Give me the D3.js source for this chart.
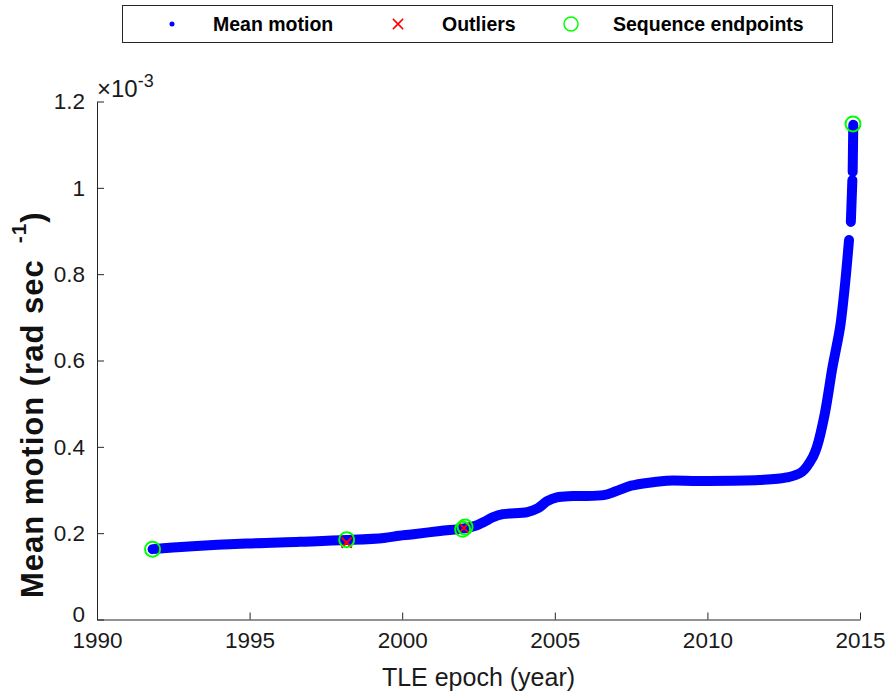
<!DOCTYPE html>
<html>
<head>
<meta charset="utf-8">
<script src="https://cdn.jsdelivr.net/npm/d3@7"></script>
<style>
  body { margin: 0; background: #fff; }
  svg { display: block; font-family: "Liberation Sans", Arial, sans-serif; }
</style>
</head>
<body>
<div id="chart"></div>
<script>
// mean motion series (units of 1e-3 rad/s), null marks a gap in the dots
const motionYear = [1991.82, 1993.0, 1994.9, 1996.65, 1998.18, 1999.4, 1999.9, 2000.3, 2001.24, 2002.03,
  2002.4, 2002.65, 2002.98, 2003.3, 2004.1, 2004.45, 2004.75, 2005.07, 2005.6, 2006.6,
  2007.0, 2007.5, 2008.2, 2008.67, 2009.76, 2011.7, 2012.6, 2013.1, 2013.46, 2013.59,
  2013.85, 2014.1, 2014.23, 2014.35, 2014.5, 2014.64, null, 2014.70, 2014.75, null, 2014.76, 2014.78];
const motionValue = [0.163, 0.169, 0.176, 0.180, 0.184, 0.189, 0.194, 0.197, 0.205, 0.211,
  0.217, 0.225, 0.237, 0.244, 0.249, 0.258, 0.274, 0.283, 0.286, 0.288,
  0.297, 0.310, 0.318, 0.3215, 0.321, 0.323, 0.329, 0.342, 0.377, 0.400,
  0.478, 0.585, 0.632, 0.678, 0.770, 0.879, null, 0.921, 1.018, null, 1.037, 1.146];

const outlierYear = [1998.18, 2002.02];
const outlierValue = [0.178, 0.212];

const endpointYear = [1991.82, 1998.18, 2001.98, 2002.06, 2014.77];
const endpointValue = [0.163, 0.185, 0.209, 0.214, 1.148];

const xTicks = [1990, 1995, 2000, 2005, 2010, 2015];
const yTicks = [0, 0.2, 0.4, 0.6, 0.8, 1, 1.2];

const width = 885, height = 693;
const axisColor = "#262626";

const x = d3.scaleLinear().domain([1990, 2015]).range([97, 860]);
const y = d3.scaleLinear().domain([0, 1.2]).range([619.5, 101.5]);

const svg = d3.select("#chart").append("svg")
  .attr("width", width)
  .attr("height", height);

// axes
const xAxis = d3.axisBottom(x).tickValues(xTicks).tickFormat(d3.format("d"))
  .tickSizeInner(-7).tickSizeOuter(0).tickPadding(13);
const yAxis = d3.axisLeft(y).tickValues(yTicks).tickFormat(d => d3.format("")(+d.toFixed(1)))
  .tickSizeInner(-7).tickSizeOuter(0).tickPadding(12);

const gx = svg.append("g").attr("transform", "translate(0," + y(0) + ")").call(xAxis);
const gy = svg.append("g").attr("transform", "translate(" + x(1990) + ",0)").call(yAxis);

[gx, gy].forEach(g => {
  g.selectAll("path, line").attr("stroke", axisColor).attr("stroke-width", 1);
  g.selectAll("text").attr("fill", "#1a1a1a")
    .style("font-size", "22.5px")
    .style("font-family", "'Liberation Sans', Arial, sans-serif");
});
// keep the "0" tick a bit above the x labels
gy.selectAll(".tick text").filter(d => d === 0).attr("dy", "0.1em");

// exponent label
const expo = svg.append("text").attr("x", 97).attr("y", 97)
  .attr("fill", "#1a1a1a").style("font-size", "24px");
expo.append("tspan").text("\u00d710");
expo.append("tspan").attr("dy", -10).style("font-size", "18px").text("-3");

// mean motion curve
const motion = motionYear.map((yr, i) => ({ t: yr, v: motionValue[i] }));
const line = d3.line()
  .defined(d => d.t !== null && d.v !== null)
  .x(d => x(d.t)).y(d => y(d.v))
  .curve(d3.curveCatmullRom.alpha(0.5));

svg.append("path")
  .datum(motion)
  .attr("d", line)
  .attr("fill", "none")
  .attr("stroke", "#0000ff")
  .attr("stroke-width", 10)
  .attr("stroke-linecap", "round")
  .attr("stroke-linejoin", "round");

// outliers
const cross = d3.symbol().type(d3.symbolX).size(70);
svg.selectAll(".outlier")
  .data(outlierYear.map((yr, i) => ({ t: yr, v: outlierValue[i] })))
  .enter().append("path")
  .attr("class", "outlier")
  .attr("d", cross)
  .attr("transform", d => "translate(" + x(d.t) + "," + y(d.v) + ")")
  .attr("fill", "none")
  .attr("stroke", "#ff0000")
  .attr("stroke-width", 2);

// sequence endpoints
svg.selectAll(".endpoint")
  .data(endpointYear.map((yr, i) => ({ t: yr, v: endpointValue[i] })))
  .enter().append("circle")
  .attr("class", "endpoint")
  .attr("cx", d => x(d.t))
  .attr("cy", d => y(d.v))
  .attr("r", 7.5)
  .attr("fill", "none")
  .attr("stroke", "#00ff00")
  .attr("stroke-width", 2);

// axis labels
svg.append("text")
  .attr("x", (x(1990) + x(2015)) / 2).attr("y", 686)
  .attr("text-anchor", "middle")
  .attr("fill", "#1a1a1a")
  .style("font-size", "25px")
  .text("TLE epoch (year)");

const ylab = svg.append("text")
  .attr("transform", "translate(43,598) rotate(-90)")
  .attr("text-anchor", "start")
  .attr("fill", "#111")
  .style("font-size", "31px")
  .style("font-weight", "bold")
  .style("letter-spacing", "1px");
ylab.append("tspan").text("Mean motion (rad sec");
ylab.append("tspan").attr("dx", 16).attr("dy", -17).style("font-size", "21px").text("-1");
ylab.append("tspan").attr("dy", 17).text(")");

// legend
svg.append("rect")
  .attr("x", 122.5).attr("y", 5.5).attr("width", 710).attr("height", 37)
  .attr("fill", "#fff").attr("stroke", axisColor).attr("stroke-width", 1);

const legendY = 24;
svg.append("circle").attr("cx", 172).attr("cy", legendY).attr("r", 2.5).attr("fill", "#0000ff");
svg.append("path").attr("d", cross).attr("transform", "translate(398," + legendY + ")")
  .attr("fill", "none").attr("stroke", "#ff0000").attr("stroke-width", 1.5);
svg.append("circle").attr("cx", 571).attr("cy", legendY).attr("r", 7)
  .attr("fill", "none").attr("stroke", "#00ff00").attr("stroke-width", 1.5);

const legendItems = [["Mean motion", 213], ["Outliers", 442], ["Sequence endpoints", 613]];
svg.selectAll(".legtext").data(legendItems).enter().append("text")
  .attr("class", "legtext")
  .attr("x", d => d[1]).attr("y", legendY + 7)
  .attr("fill", "#000")
  .style("font-size", "19.5px")
  .style("font-weight", "bold")
  .text(d => d[0]);
</script>
</body>
</html>
